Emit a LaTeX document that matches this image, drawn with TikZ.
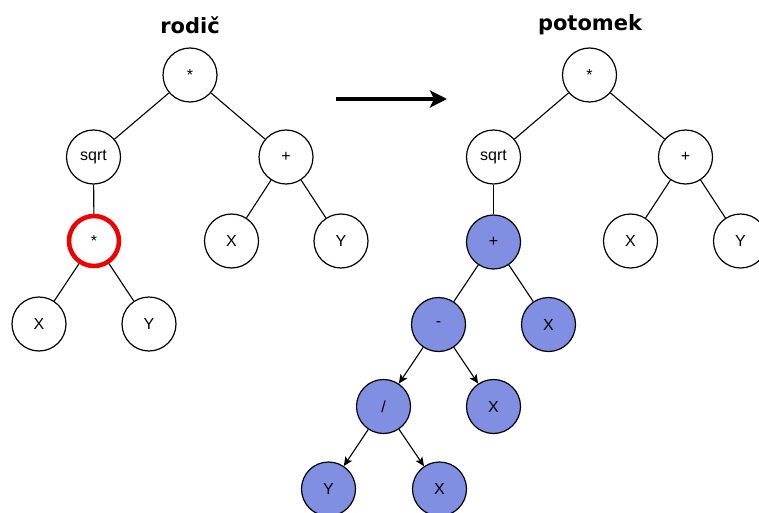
\documentclass[tikz,border=0pt]{standalone}
\usepackage{fontspec}
\setmainfont{Liberation Sans}
\newfontfamily\titlefont{DejaVu Sans}
\usetikzlibrary{arrows.meta}
\definecolor{treeblue}{RGB}{128,143,226}
\definecolor{markred}{RGB}{240,0,0}
\tikzset{
  x=1pt, y=1pt,
  tnode/.style={circle, draw=black, line width=1.2pt, minimum size=54pt, inner sep=0pt, fill=white, font=\fontsize{16}{16}\selectfont},
  newnode/.style={tnode, fill=treeblue},
  marked/.style={tnode, draw=markred, line width=4.5pt, minimum size=50pt},
  edge/.style={line width=1.1pt},
  aedge/.style={edge, -{Stealth[length=9pt,width=8pt,inset=2pt]}},
  heading/.style={font=\titlefont\bfseries\fontsize{21}{21}\selectfont},
}
\begin{document}
\begin{tikzpicture}
\useasboundingbox (0,0) rectangle (759,-513);
% headings
\node[heading] (t1) at (190,-25) {rodič};
\node[heading] (t2) at (590,-25) {potomek};
% parent tree
\node[tnode] (a) at (190,-75) {*};
\node[tnode] (b) at (93.5,-157) {sqrt};
\node[tnode] (c) at (286,-157) {+};
\node[marked] (d) at (94,-241) {*};
\node[tnode] (e) at (39,-324) {X};
\node[tnode] (f) at (149,-324) {Y};
\node[tnode] (g) at (231.5,-241) {X};
\node[tnode] (h) at (341,-241) {Y};
\draw[edge] (a) -- (b);
\draw[edge] (a) -- (c);
\draw[edge] (b) -- (d);
\draw[edge] (d) -- (e);
\draw[edge] (d) -- (f);
\draw[edge] (c) -- (g);
\draw[edge] (c) -- (h);
% transformation arrow
\coordinate (p1) at (336,-99);
\coordinate (p2) at (447,-99);
\draw[line width=4pt, -{Stealth[length=17pt,width=17pt,inset=4pt]}] (p1) -- (p2);
% offspring tree
\node[tnode] (A) at (589.5,-75) {*};
\node[tnode] (B) at (493.5,-157) {sqrt};
\node[tnode] (C) at (685.5,-157) {+};
\node[tnode] (G) at (630.5,-241) {X};
\node[tnode] (H) at (740.5,-241) {Y};
\node[newnode] (D) at (493.5,-242) {+};
\node[newnode] (E) at (438.5,-324.5) {-};
\node[newnode] (F) at (548.5,-324.5) {X};
\node[newnode] (I) at (383.5,-406.5) {/};
\node[newnode] (J) at (493.5,-406.5) {X};
\node[newnode] (K) at (328.5,-489) {Y};
\node[newnode] (L) at (439.5,-489) {X};
\draw[edge] (A) -- (B);
\draw[edge] (A) -- (C);
\draw[edge] (C) -- (G);
\draw[edge] (C) -- (H);
\draw[edge] (B) -- (D);
\draw[edge] (D) -- (E);
\draw[edge] (D) -- (F);
\draw[aedge] (E) -- (I);
\draw[aedge] (E) -- (J);
\draw[aedge] (I) -- (K);
\draw[aedge] (I) -- (L);
\end{tikzpicture}
\end{document}
